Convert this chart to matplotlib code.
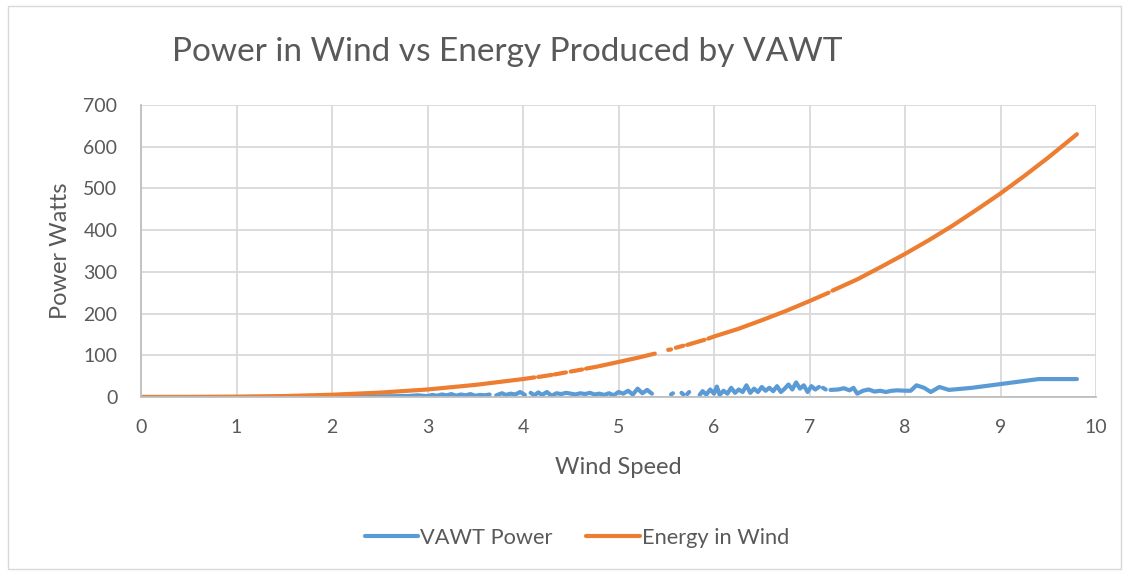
import numpy as np
import matplotlib
matplotlib.use("Agg")
import matplotlib.pyplot as plt
from matplotlib.patches import Rectangle

nan = np.nan

# VAWT power readings (gaps = missing readings)
vawt_x = [0, 0.5, 1.0, 1.5, 2.0, 2.2, 2.4, 2.6, 2.8, 2.9, 3.0, 3.05, 3.1, 3.15, 3.2, 3.25,
          3.3, 3.35, 3.4, 3.45, 3.5, 3.55, 3.6, 3.65, 3.68, 3.72, 3.78, 3.82, 3.87, 3.92,
          3.97, 4.02, 4.05, 4.08, 4.12, 4.16, 4.2, 4.25, 4.3, 4.35, 4.4, 4.45, 4.5, 4.55,
          4.6, 4.65, 4.7, 4.75, 4.8, 4.85, 4.9, 4.95, 5.0, 5.05, 5.1, 5.15, 5.2, 5.25, 5.3,
          5.35, 5.45, 5.55, 5.57, 5.62, 5.66, 5.68, 5.7, 5.72, 5.74, 5.8, 5.85, 5.88, 5.92,
          5.96, 6.0, 6.03, 6.06, 6.1, 6.14, 6.18, 6.22, 6.26, 6.3, 6.34, 6.38, 6.42, 6.46,
          6.5, 6.54, 6.58, 6.62, 6.66, 6.7, 6.74, 6.78, 6.82, 6.86, 6.9, 6.94, 6.98, 7.02,
          7.06, 7.1, 7.12, 7.14, 7.17, 7.19, 7.22, 7.3, 7.36, 7.42, 7.46, 7.5, 7.56, 7.62,
          7.68, 7.74, 7.8, 7.86, 7.92, 8.0, 8.06, 8.12, 8.2, 8.27, 8.36, 8.46, 8.7, 9.0,
          9.4, 9.8]
vawt_y = [0, 0, 0, 0.2, 0.5, 0.8, 1.2, 1.8, 2.5, 4, 2, 5, 3, 6, 4, 7,
          3, 6, 4, 7, 3, 5, 4, 6, nan, 4, 9, 5, 8, 6,
          12, 5, nan, 10, 4, 11, 5, 12, 3, 9, 7, 10, 8, 6,
          9, 7, 10, 6, 8, 5, 9, 4, 12, 8, 15, 6, 20, 9, 17,
          8, nan, 6, 9, nan, 10, 6, nan, 7, 12, nan, 5, 14, 6,
          18, 8, 25, 5, 15, 8, 22, 10, 18, 12, 28, 10, 20, 12,
          24, 15, 22, 14, 26, 12, 20, 30, 18, 35, 20, 28, 12, 26,
          18, 24, nan, 22, 18, nan, 17, 18, 21, 16, 22, 8, 15, 18,
          13, 15, 12, 15, 16, 15, 15, 28, 22, 12, 24, 17, 22, 31,
          43, 43]

# theoretical power in the wind
wind_x = [0, 0.5, 1.0, 1.5, 2.0, 2.5, 3.0, 3.5, 4.0, 4.12, 4.14, 4.16, 4.3, 4.31, 4.33,
          4.45, 4.47, 4.5, 4.62, 4.64, 4.66, 4.78, 4.79, 4.8, 5.0, 5.2, 5.38, 5.45,
          5.52, 5.55, 5.57, 5.6, 5.68, 5.7, 5.72, 5.9, 5.92, 5.94, 6.0, 6.25, 6.5, 6.75,
          7.0, 7.2, 7.22, 7.24, 7.5, 7.75, 8.0, 8.25, 8.5, 8.75, 9.0, 9.25, 9.5, 9.8]
wind_y = [0, 0.1, 0.7, 2.3, 5.4, 10.5, 18, 29, 43, 47, nan, 48, 53, nan, 54,
          59, nan, 61, 66, nan, 68, 73, nan, 74, 84, 94, 104, nan,
          113, 114, nan, 118, 123, nan, 125, 137, nan, 140, 145, 163, 184, 206,
          230, 250, nan, 255, 282, 312, 343, 376, 411, 449, 488, 530, 574, 630]

plt.rcParams['font.family'] = ['Lato', 'DejaVu Sans']
txt = '#595959'
grid = '#d9d9d9'

fig = plt.figure(figsize=(11.28, 5.71), dpi=100)
ax = fig.add_axes([141/1128, 1-397/571, (1096-141)/1128, (397-105)/571])

ax.plot(vawt_x, vawt_y, color='#5B9BD5', lw=3, solid_capstyle='round', label='VAWT Power')
ax.plot(wind_x, wind_y, color='#ED7D31', lw=3, solid_capstyle='round', label='Energy in Wind')

ax.set_xlim(0, 10)
ax.set_ylim(0, 700)
ax.set_xticks(range(0, 11))
ax.set_yticks(range(0, 701, 100))
ax.grid(True, color=grid, lw=1.3)
ax.set_axisbelow(True)
for s in ['top', 'right']:
    ax.spines[s].set_visible(False)
for s in ['left', 'bottom']:
    ax.spines[s].set_color('#bfbfbf')
    ax.spines[s].set_linewidth(1.3)
ax.tick_params(length=0, labelsize=14, colors=txt)
ax.tick_params(axis='x', pad=16)
ax.tick_params(axis='y', pad=17)

ax.set_xlabel('Wind Speed', fontsize=17, color=txt, labelpad=15)
ax.set_ylabel('Power Watts', fontsize=17, color=txt, labelpad=9)

fig.text(172/1128, 1-52/571, 'Power in Wind vs Energy Produced by VAWT',
         fontsize=24, color=txt, ha='left', va='center')

fig.legend(loc='center', bbox_to_anchor=(577/1128, 1-538/571), ncol=2, frameon=False,
           fontsize=15.7, handlelength=2.45, columnspacing=1.55, handletextpad=0.1,
           labelcolor=txt)

fig.patches.append(Rectangle((8/1128, 2/571), 1113/1128, 563/571, transform=fig.transFigure,
                             fill=False, edgecolor=grid, lw=1))

fig.savefig('out.png', dpi=100)
